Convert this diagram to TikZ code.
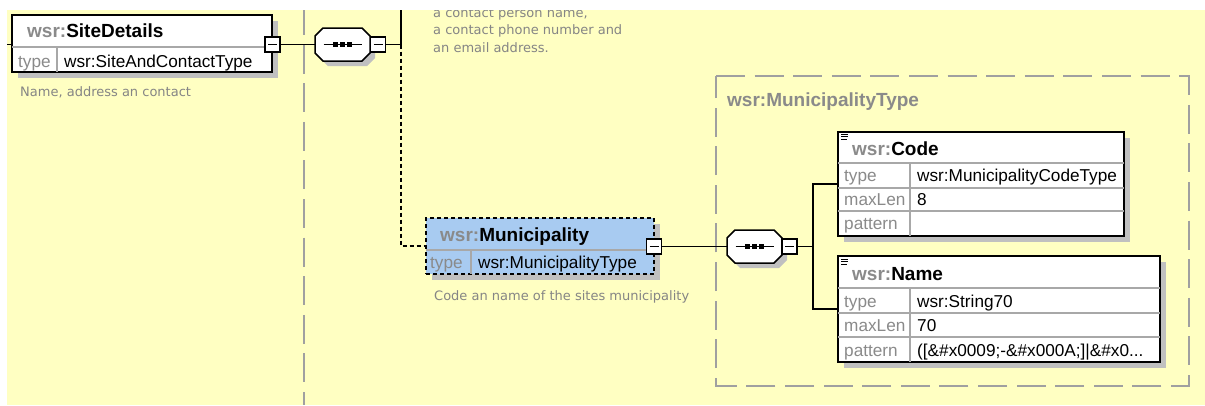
\documentclass[tikz,border=0pt]{standalone}
\usepackage{fontspec}
\setmainfont{Liberation Sans}
\newfontfamily\docfont{DejaVu Sans}
\usetikzlibrary{shadows}
\definecolor{bgyellow}{HTML}{FFFFC2}
\definecolor{shadowgray}{HTML}{C0C0C0}
\definecolor{lblgray}{HTML}{8A8A8A}
\definecolor{gridgray}{HTML}{A8A8A8}
\definecolor{grpgray}{HTML}{A0A0A0}
\definecolor{muniblue}{HTML}{A8CBF1}
\definecolor{doccol}{HTML}{858585}
\newcommand\ttlf{\fontsize{19}{22}\selectfont\bfseries}
\newcommand\rowf{\fontsize{17.2}{20}\selectfont}
\newcommand\docf{\docfont\fontsize{13}{17}\selectfont}
\newcommand\octpath{(-19.5,-16.5) -- (19.5,-16.5) -- (27.5,-8.5) -- (27.5,8.5) -- (19.5,16.5) -- (-19.5,16.5) -- (-27.5,8.5) -- (-27.5,-8.5) -- cycle}
\newcommand\seqat[3]{%
  \begin{scope}[shift={(#1,#2)}]
    \fill[shadowgray,shift={(5,5)}] \octpath;
    \draw[line width=1.5pt,fill=white] \octpath;
    \draw[line width=1.4pt] (-19,0) -- (19,0);
    \fill (-9.5,-2.5) rectangle (-4.5,2.5);
    \fill (-2.5,-2.5) rectangle (2.5,2.5);
    \fill (4.5,-2.5) rectangle (9.5,2.5);
  \end{scope}
  \node[minimum width=55pt,minimum height=33pt,inner sep=0pt] (#3) at (#1,#2) {};%
}
\begin{document}
\begin{tikzpicture}[x=1pt,y=-1pt,
  conn/.style={line width=1.6pt,black},
  dotconn/.style={line width=1.6pt,black,dash pattern=on 4pt off 3pt},
  elbox/.style={draw=black,line width=1.5pt,fill=white,inner sep=0pt,
    drop shadow={shadow xshift=6pt,shadow yshift=-6pt,fill=shadowgray,opacity=1}},
  munibox/.style={elbox,fill=muniblue,dash pattern=on 4pt off 3pt},
  minusbox/.style={draw=black,line width=1.4pt,fill=white,minimum size=15pt,inner sep=0pt,
    path picture={\draw[line width=1.4pt] ([xshift=3pt]path picture bounding box.west) -- ([xshift=-3pt]path picture bounding box.east);}},
  grid/.style={draw=gridgray,line width=1.1pt},
  grpline/.style={draw=grpgray,line width=1.6pt,dash pattern=on 29pt off 9.6pt},
  txt/.style={anchor=base west,inner sep=0pt,font=\rowf},
  lbl/.style={txt,text=lblgray},
  ttl/.style={anchor=base west,inner sep=0pt,font=\ttlf},
  doc/.style={anchor=base west,inner sep=0pt,font=\docf,text=doccol},
  icon/.style={line width=1pt,black}
]
\useasboundingbox (0,0) rectangle (1205,405);
\fill[bgyellow] (7,10) rectangle (1205,405);
\begin{scope}
\clip (7,10) rectangle (1205,405);
% group outlines
\draw[grpline,dash phase=0pt] (304,6) -- (304,405);
\draw[grpline] (716,76) -- (1189,76) -- (1189,386) -- (716,386) -- cycle;
\node[ttl,text=lblgray] (grplbl) at (727,106.5) {wsr:MunicipalityType};
% documentation of element above
\node[doc] (docA) at (433,17.3) {a contact person name,};
\node[doc] (docB) at (433,34.8) {a contact phone number and};
\node[doc] (docC) at (433,52.0) {an email address.};
% SiteDetails
\coordinate (inL) at (7,44.5);
\node[elbox,minimum width=260pt,minimum height=57pt] (sd) at (142,43.5) {};
\draw[grid] (12,47) -- (272,47);
\draw[grid] (57,47) -- (57,72);
\node[ttl] (sdt) at (27,37) {\textcolor{lblgray}{wsr:}SiteDetails};
\node[lbl] (sdl) at (18,67) {type};
\node[txt] (sdv) at (64,67) {wsr:SiteAndContactType};
\node[doc] (sdd) at (20,96.5) {Name, address an contact};
\node[minusbox] (m1) at (272.5,44.5) {};
\draw[conn] (inL) -- (sd.west |- inL);
% sequence 1
\seqat{342.5}{44.5}{s1}
\node[minusbox] (sm1) at (378,44.5) {};
\draw[conn] (m1.east) -- (s1.west);
\coordinate (j1) at (401,44.5);
\coordinate (top1) at (401,10);
\draw[conn] (sm1.east) -- (j1) -- (top1);
% Municipality
\node[munibox,minimum width=228pt,minimum height=56pt] (mun) at (540,246) {};
\draw[grid] (426,250) -- (654,250);
\draw[grid] (471,250) -- (471,274);
\node[ttl] (munt) at (440,241.5) {\textcolor{lblgray}{wsr:}Municipality};
\node[lbl] (munl) at (430,268) {type};
\node[txt] (munv) at (478,268) {wsr:MunicipalityType};
\node[doc] (mund) at (434,300) {Code an name of the sites municipality};
\draw[dotconn] (j1) |- (mun.west);
\node[minusbox] (m2) at (654,246.5) {};
% sequence 2
\seqat{754.5}{246.5}{s2}
\node[minusbox] (sm2) at (789.5,246.5) {};
\draw[conn] (m2.east) -- (s2.west);
\coordinate (j2) at (813,246.5);
\draw[conn] (sm2.east) -- (j2);
% Code
\node[elbox,minimum width=286pt,minimum height=104pt] (code) at (981,184) {};
\draw[grid] (838,163) -- (1124,163);
\draw[grid] (838,188) -- (1124,188);
\draw[grid] (838,211) -- (1124,211);
\draw[grid] (910,163) -- (910,236);
\draw[icon] (841,134) -- (848,134) (841,136.5) -- (848,136.5) (841,139) -- (847,139);
\node[ttl] (codet) at (852,155) {\textcolor{lblgray}{wsr:}Code};
\node[lbl] (codel1) at (844,181.5) {type};
\node[txt] (codev1) at (917,181.5) {wsr:MunicipalityCodeType};
\node[lbl] (codel2) at (844,205.5) {maxLen};
\node[txt] (codev2) at (917,205.5) {8};
\node[lbl] (codel3) at (844,229.5) {pattern};
% Name
\node[elbox,minimum width=322pt,minimum height=106pt] (name) at (999,309) {};
\draw[grid] (838,288) -- (1160,288);
\draw[grid] (838,313) -- (1160,313);
\draw[grid] (838,337) -- (1160,337);
\draw[grid] (910,288) -- (910,362);
\draw[icon] (841,259) -- (848,259) (841,261.5) -- (848,261.5) (841,264) -- (847,264);
\node[ttl] (namet) at (852,280) {\textcolor{lblgray}{wsr:}Name};
\node[lbl] (namel1) at (844,307) {type};
\node[txt] (namev1) at (917,307) {wsr:String70};
\node[lbl] (namel2) at (844,331) {maxLen};
\node[txt] (namev2) at (917,331) {70};
\node[lbl] (namel3) at (844,356) {pattern};
\node[txt] (namev3) at (917,356) {([\&\#x0009;-\&\#x000A;]|\&\#x0...};
\draw[conn] (code.west) -| (j2) |- (name.west);
\end{scope}
\end{tikzpicture}
\end{document}
